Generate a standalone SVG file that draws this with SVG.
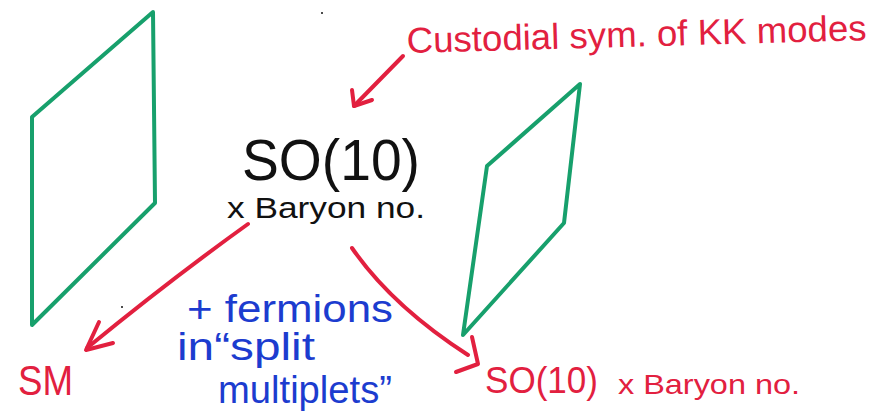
<svg xmlns="http://www.w3.org/2000/svg" width="888" height="416" viewBox="0 0 888 416">
<style>
.brane{fill:none;stroke:#17a06c;stroke-width:4;stroke-linejoin:round;stroke-linecap:round}
.red{fill:none;stroke:#e2203f;stroke-width:4;stroke-linecap:round;stroke-linejoin:round}
.t{font-family:"Liberation Sans",Arial,sans-serif}
.blk{fill:#111}
.rt{fill:#e2203f}
.bt{fill:#1c3ccf}
</style>
<rect width="888" height="416" fill="#fff"/>
<g id="left-brane"><path class="brane" d="M153,12 L32,117 L32,325 L155,203 Z"/></g>
<g id="right-brane"><path class="brane" d="M580,84 L487,166 L463,335 L564,223 Z"/></g>
<g id="connectors">
<path class="red" d="M403,56 L354,106"/>
<path class="red" d="M352,90 L354,106 L372,100"/>
<path class="red" d="M248,224 Q170,280 87,348"/>
<path class="red" d="M99,322 L86,350 L113,343"/>
<path class="red" d="M352,248 Q392,306 468,355"/>
<path class="red" d="M472,337 L478,364 L456,372"/>
</g>
<g id="custodial-label"><text class="t rt" x="407" y="53" font-size="36" textLength="460" lengthAdjust="spacingAndGlyphs" transform="rotate(-1.6 407 53)">Custodial sym. of KK modes</text></g>
<g id="so10-node">
<text class="t blk" x="242" y="180" font-size="58" textLength="178" lengthAdjust="spacingAndGlyphs">SO(10)</text>
<text class="t blk" x="227" y="218" font-size="30" textLength="198" lengthAdjust="spacingAndGlyphs">x Baryon no.</text>
</g>
<g id="sm-node"><text class="t rt" x="18" y="395" font-size="43" textLength="55" lengthAdjust="spacingAndGlyphs">SM</text></g>
<g id="so10b-node">
<text class="t rt" x="485" y="393" font-size="36" textLength="113" lengthAdjust="spacingAndGlyphs">SO(10)</text>
<text class="t rt" x="618" y="394" font-size="28" textLength="182" lengthAdjust="spacingAndGlyphs">x Baryon no.</text>
</g>
<g id="fermions-label">
<text class="t bt" x="187" y="322" font-size="38" textLength="206" lengthAdjust="spacingAndGlyphs">+ fermions</text>
<text class="t bt" x="177" y="360" font-size="38" textLength="138" lengthAdjust="spacingAndGlyphs">in“split</text>
<text class="t bt" x="218" y="403" font-size="38" textLength="174" lengthAdjust="spacingAndGlyphs">multiplets”</text>
</g>
<circle cx="322" cy="13" r="1" fill="#111"/>
<circle cx="122" cy="307" r="1" fill="#111"/>
</svg>
